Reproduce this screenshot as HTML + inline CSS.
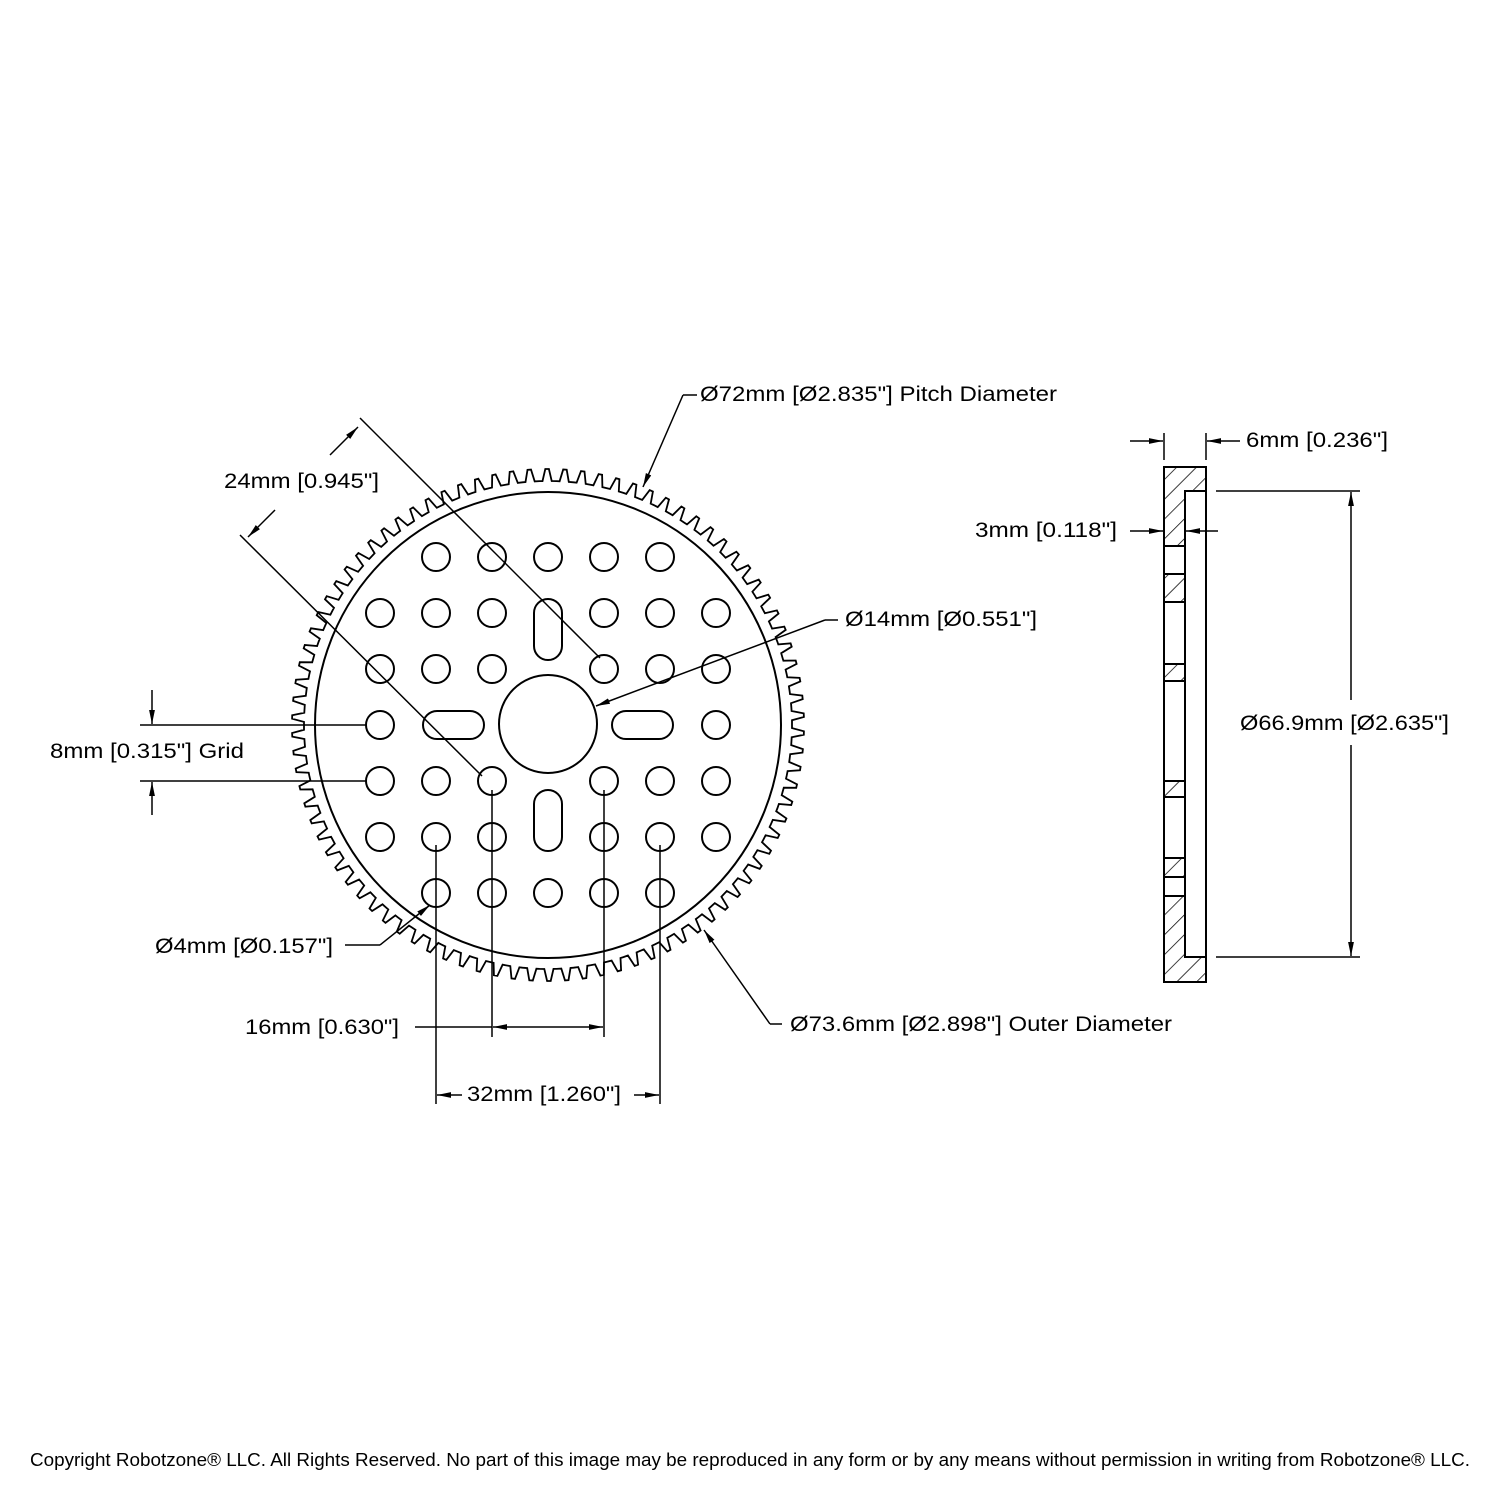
<!DOCTYPE html>
<html><head><meta charset="utf-8"><style>
html,body{margin:0;padding:0;background:#fff;}
svg{display:block;}
text{font-family:"Liberation Sans","DejaVu Sans",sans-serif;font-size:21px;fill:#000;}
</style></head><body>
<svg id="s" width="1500" height="1500" viewBox="0 0 1500 1500" xmlns="http://www.w3.org/2000/svg">
<defs>
<marker id="a" viewBox="0 0 12 6" refX="12" refY="3" markerWidth="14" markerHeight="7" markerUnits="userSpaceOnUse" orient="auto"><path d="M0,0.5 L12,3 L0,5.5 z" fill="#000"/></marker>
<pattern id="h" width="14" height="14" patternUnits="userSpaceOnUse" patternTransform="rotate(45)"><line x1="0" y1="0" x2="0" y2="14" stroke="#000" stroke-width="1.5"/></pattern>
</defs>
<g fill="none" stroke="#000" stroke-width="2">
<path id="gear" stroke-width="1.8"/>
<circle cx="548" cy="725" r="233"/>
<circle cx="548" cy="724" r="49"/>
<rect x="534" y="599" width="28" height="61" rx="14"/>
<rect x="534" y="790" width="28" height="61" rx="14"/>
<rect x="423" y="711" width="61" height="28" rx="14"/>
<rect x="612" y="711" width="61" height="28" rx="14"/>
<g id="holes"></g>
</g>
<g fill="none" stroke="#000" stroke-width="1.5">
<line x1="360" y1="418" x2="600" y2="658"/>
<line x1="240" y1="535" x2="482" y2="776"/>
<line x1="330" y1="455" x2="358" y2="427" marker-end="url(#a)"/>
<line x1="275" y1="510" x2="248" y2="537" marker-end="url(#a)"/>
<polyline points="697,395 683,395"/>
<line x1="683" y1="395" x2="643" y2="487" marker-end="url(#a)"/>
<polyline points="838,620 825,620"/>
<line x1="825" y1="620" x2="596" y2="706" marker-end="url(#a)"/>
<polyline points="782,1024 770,1024"/>
<line x1="770" y1="1024" x2="704" y2="930" marker-end="url(#a)"/>
<polyline points="345,945 380,945"/>
<line x1="380" y1="945" x2="430" y2="905" marker-end="url(#a)"/>
<line x1="140" y1="725" x2="366" y2="725"/>
<line x1="140" y1="781" x2="366" y2="781"/>
<line x1="152" y1="690" x2="152" y2="724" marker-end="url(#a)"/>
<line x1="152" y1="815" x2="152" y2="782" marker-end="url(#a)"/>
<line x1="492" y1="790" x2="492" y2="1037"/>
<line x1="604" y1="790" x2="604" y2="1037"/>
<line x1="415" y1="1027" x2="492" y2="1027"/>
<line x1="548" y1="1027" x2="493" y2="1027" marker-end="url(#a)"/>
<line x1="548" y1="1027" x2="603" y2="1027" marker-end="url(#a)"/>
<line x1="436" y1="845" x2="436" y2="1104"/>
<line x1="660" y1="845" x2="660" y2="1104"/>
<line x1="462" y1="1095" x2="437" y2="1095" marker-end="url(#a)"/>
<line x1="634" y1="1095" x2="659" y2="1095" marker-end="url(#a)"/>
<line x1="1164" y1="433" x2="1164" y2="460"/>
<line x1="1206" y1="433" x2="1206" y2="460"/>
<line x1="1130" y1="441" x2="1163" y2="441" marker-end="url(#a)"/>
<line x1="1240" y1="441" x2="1207" y2="441" marker-end="url(#a)"/>
<line x1="1130" y1="531" x2="1163" y2="531" marker-end="url(#a)"/>
<line x1="1218" y1="531" x2="1186" y2="531" marker-end="url(#a)"/>
<line x1="1216" y1="491" x2="1360" y2="491"/>
<line x1="1216" y1="957" x2="1360" y2="957"/>
<line x1="1351" y1="700" x2="1351" y2="492" marker-end="url(#a)"/>
<line x1="1351" y1="745" x2="1351" y2="956" marker-end="url(#a)"/>
</g>
<g stroke="#000" stroke-width="2">
<path d="M1164,467 H1206 V491 H1185 V546 H1164 Z" fill="url(#h)"/>
<rect x="1164" y="574" width="21" height="28" fill="url(#h)"/>
<rect x="1164" y="664" width="21" height="17" fill="url(#h)"/>
<rect x="1164" y="781" width="21" height="16" fill="url(#h)"/>
<rect x="1164" y="858" width="21" height="19" fill="url(#h)"/>
<path d="M1164,896 H1185 V957 H1206 V982 H1164 Z" fill="url(#h)"/>
<rect x="1164" y="467" width="42" height="515" fill="none"/>
<rect x="1185" y="491" width="21" height="466" fill="none"/>
</g>
<g style="font-size:22px">
<text x="224" y="488" textLength="155" lengthAdjust="spacingAndGlyphs">24mm [0.945"]</text>
<text x="700" y="401" textLength="357" lengthAdjust="spacingAndGlyphs">Ø72mm [Ø2.835"] Pitch Diameter</text>
<text x="845" y="626" textLength="192" lengthAdjust="spacingAndGlyphs">Ø14mm [Ø0.551"]</text>
<text x="50" y="758" textLength="194" lengthAdjust="spacingAndGlyphs">8mm [0.315"] Grid</text>
<text x="155" y="953" textLength="178" lengthAdjust="spacingAndGlyphs">Ø4mm [Ø0.157"]</text>
<text x="245" y="1034" textLength="154" lengthAdjust="spacingAndGlyphs">16mm [0.630"]</text>
<text x="467" y="1101" textLength="154" lengthAdjust="spacingAndGlyphs">32mm [1.260"]</text>
<text x="790" y="1031" textLength="382" lengthAdjust="spacingAndGlyphs">Ø73.6mm [Ø2.898"] Outer Diameter</text>
<text x="1246" y="447" textLength="142" lengthAdjust="spacingAndGlyphs">6mm [0.236"]</text>
<text x="975" y="537" textLength="142" lengthAdjust="spacingAndGlyphs">3mm [0.118"]</text>
<text x="1240" y="730" textLength="209" lengthAdjust="spacingAndGlyphs">Ø66.9mm [Ø2.635"]</text>
</g>
<text x="30" y="1466" textLength="1440" lengthAdjust="spacingAndGlyphs" style="font-size:18px">Copyright Robotzone® LLC.  All Rights Reserved. No part of this image may be reproduced in any form or by any means without permission in writing from Robotzone® LLC.</text>
</svg>
<script>
(function(){
var cx=548,cy=725,N=90,ro=256,rr=244,d="";
for(var i=0;i<N;i++){
 var t=i*2*Math.PI/N, s=2*Math.PI/N;
 var pts=[[rr,t],[rr,t+s*0.18],[ro,t+s*0.35],[ro,t+s*0.55],[rr,t+s*0.72]];
 pts.forEach(function(p,j){var x=cx+p[0]*Math.cos(p[1]),y=cy+p[0]*Math.sin(p[1]);d+=(i==0&&j==0?"M":"L")+x.toFixed(1)+","+y.toFixed(1);});
}
d+="Z";
document.getElementById("gear").setAttribute("d",d);
var rows={557:[436,492,548,604,660],613:[380,436,492,604,660,716],669:[380,436,492,604,660,716],725:[380,716],781:[380,436,492,604,660,716],837:[380,436,492,604,660,716],893:[436,492,548,604,660]};
var g=document.getElementById("holes"),h="";
for(var y in rows){rows[y].forEach(function(x){h+='<circle cx="'+x+'" cy="'+y+'" r="14"/>';});}
g.innerHTML=h;
})();
</script>
</body></html>
